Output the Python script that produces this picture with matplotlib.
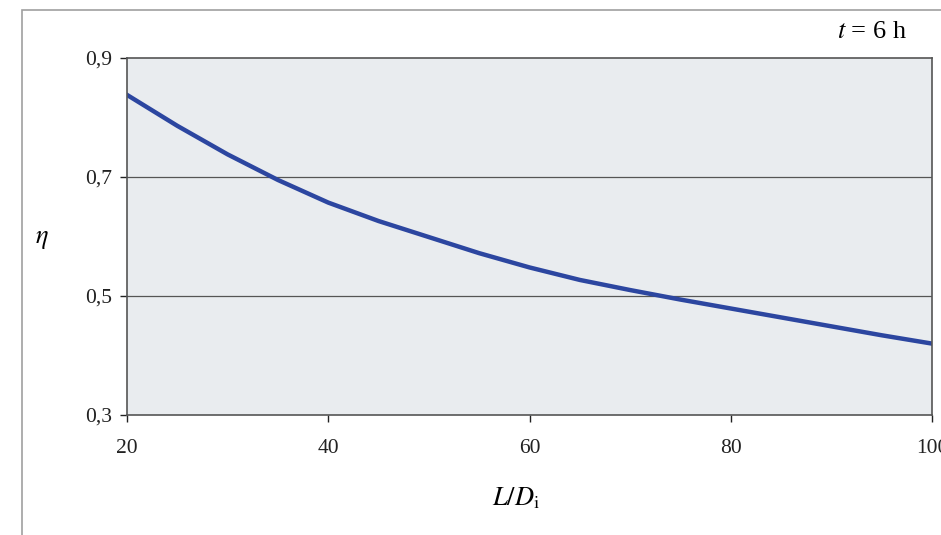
import numpy as np
import matplotlib
matplotlib.use("Agg")
from matplotlib import pyplot as plt
from matplotlib.patches import Rectangle

# values
ratio = [20, 25, 30, 35, 40, 45, 50, 55, 60, 65, 70, 75, 80, 85, 90, 95, 100]
eta = [0.838, 0.786, 0.738, 0.695, 0.657, 0.626, 0.599, 0.572, 0.548, 0.527,
       0.510, 0.494, 0.479, 0.464, 0.449, 0.434, 0.420]

yticks = [0.3, 0.5, 0.7, 0.9]
ylabels = ["0,3", "0,5", "0,7", "0,9"]
xticks = [20, 40, 60, 80, 100]

plt.rcParams['font.family'] = ['Liberation Serif', 'DejaVu Serif']
plt.rcParams['mathtext.fontset'] = 'stix'

fig = plt.figure(figsize=(9.41, 5.35), dpi=100)
ax = fig.add_axes([127/941, 1-415/535, (932-127)/941, (415-58)/535])

# outer chart frame
fig.patches.append(Rectangle((22/941, -0.1), 1.2, 1-10/535+0.1, transform=fig.transFigure,
                             fill=False, edgecolor='#a0a0a0', linewidth=1.2))

ax.set_facecolor('#e9ecef')
ax.plot(ratio, eta, color='#2c46a0', linewidth=3.2, solid_joinstyle='round')
ax.set_xlim(20, 100)
ax.set_ylim(0.3, 0.9)
ax.set_yticks(yticks)
ax.set_yticklabels(ylabels)
ax.set_xticks(xticks)
for y in [0.5, 0.7]:
    ax.axhline(y, color='#555555', linewidth=0.9, zorder=1)
for s in ax.spines.values():
    s.set_color('#555555')
    s.set_linewidth(1.2)
ax.tick_params(axis='both', labelsize=15.5, colors='#222222', length=5, width=1, direction='out')
ax.tick_params(axis='x', pad=12)
ax.tick_params(axis='y', pad=6)

fig.text(42/941, 1-240/535, r'$\eta$', fontsize=19, ha='center', va='center')
fig.text(516/941, 1-498/535, r'$L/D_{\mathrm{i}}$', fontsize=19, ha='center', va='center')
fig.text(872/941, 1-32/535, r'$t$ = 6 h', fontsize=19, ha='center', va='center')

fig.savefig('out.png', dpi=100)
